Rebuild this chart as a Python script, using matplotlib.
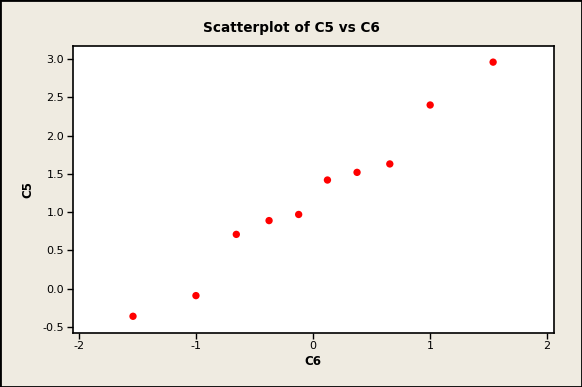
import matplotlib
matplotlib.use("Agg")
import matplotlib.pyplot as plt
from matplotlib.patches import Rectangle

c6 = [-1.539, -1.001, -0.656, -0.376, -0.123, 0.123, 0.376, 0.656, 1.001, 1.539]
c5 = [-0.36, -0.09, 0.71, 0.89, 0.97, 1.42, 1.52, 1.63, 2.40, 2.96]
xticks = [-2, -1, 0, 1, 2]
yticks = [-0.5, 0.0, 0.5, 1.0, 1.5, 2.0, 2.5, 3.0]

bg = "#EFEBE1"
fig = plt.figure(figsize=(5.82, 3.87), dpi=100, facecolor=bg)
ax = fig.add_axes([0.1246, 0.1408, 0.952 - 0.1246, 0.881 - 0.1408])
ax.set_facecolor("white")
ax.scatter(c6, c5, s=28, color="#FF0000", edgecolors="none", zorder=3)
ax.set_xlim(-2.056, 2.06)
ax.set_ylim(-0.572, 3.17)
ax.set_xticks(xticks)
ax.set_xticklabels([str(t) for t in xticks])
ax.set_yticks(yticks)
ax.set_yticklabels([f"{t:.1f}" for t in yticks])
ax.tick_params(direction="out", length=4, width=1, labelsize=8, colors="black", pad=2)
for s in ax.spines.values():
    s.set_linewidth(1.2)
    s.set_color("black")
ax.set_xlabel("C6", fontsize=8.5, fontweight="bold", labelpad=3)
ax.set_ylabel("C5", fontsize=8.5, fontweight="bold", labelpad=6)
fig.text(0.5, 0.927, "Scatterplot of C5 vs C6", ha="center", va="center",
         fontsize=9.8, fontweight="bold")
fig.patches.append(Rectangle((0, 0), 1, 1, transform=fig.transFigure, fill=False,
                             edgecolor="black", linewidth=2))
fig.savefig("out.png", dpi=100, facecolor=bg)
